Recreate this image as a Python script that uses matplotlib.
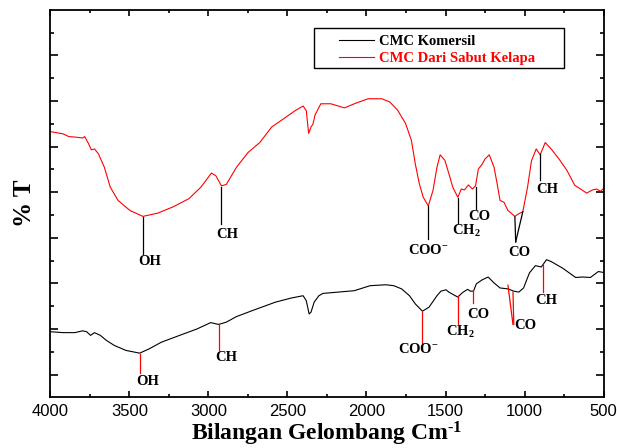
import matplotlib.pyplot as plt
from matplotlib.patches import Rectangle

plt.rcParams['font.family'] = ['Liberation Serif', 'DejaVu Serif']
plt.rcParams['mathtext.fontset'] = 'custom'
plt.rcParams['mathtext.rm'] = 'Liberation Serif:bold'
plt.rcParams['mathtext.bf'] = 'Liberation Serif:bold'
plt.rcParams['mathtext.it'] = 'Liberation Serif:bold'

# spektrum CMC dari sabut kelapa (merah)
red_x = [4000, 3920, 3883, 3846, 3796, 3783, 3758, 3741, 3721, 3696, 3659, 3621,
         3572, 3497, 3415, 3322, 3223, 3123, 3048, 2981, 2953, 2918, 2887, 2824,
         2750, 2675, 2600, 2525, 2451, 2401, 2381, 2366, 2351, 2338, 2326, 2289,
         2226, 2139, 2077, 1990, 1903, 1853, 1803, 1753, 1716, 1691, 1666, 1641,
         1609, 1579, 1554, 1534, 1504, 1479, 1454, 1422, 1400, 1380, 1355, 1330,
         1310, 1292, 1267, 1250, 1223, 1193, 1175, 1155, 1130, 1105, 1081, 1061,
         1036, 1011, 981, 956, 926, 901, 869, 832, 782, 732, 682, 645, 607, 570,
         545, 520, 500]
red_y = [58.3, 57.8, 57.2, 57.1, 56.9, 57.2, 55.6, 54.3, 54.5, 53.4, 50.5, 46.1,
         43.2, 41.0, 39.7, 40.4, 41.8, 43.6, 46.1, 49.2, 48.6, 46.4, 46.7, 50.4,
         53.7, 55.9, 59.3, 61.1, 62.9, 63.9, 62.9, 57.9, 59.3, 60.0, 61.9, 64.4,
         64.4, 63.5, 64.4, 65.5, 65.5, 64.8, 63.0, 60.1, 56.4, 51.2, 46.9, 43.9,
         42.0, 45.4, 50.5, 53.2, 52.0, 49.1, 46.1, 43.9, 45.7, 45.5, 46.6, 45.7,
         46.4, 50.1, 51.2, 52.3, 53.2, 50.5, 47.2, 43.2, 42.8, 41.0, 40.3, 39.7,
         40.3, 40.7, 46.1, 51.9, 54.5, 53.2, 55.9, 54.5, 52.3, 49.8, 46.5, 45.7,
         44.8, 45.5, 45.7, 45.2, 45.8]

# spektrum CMC komersil (hitam)
blk_x = [4000, 3920, 3846, 3796, 3771, 3746, 3721, 3684, 3646, 3596, 3522, 3435,
         3372, 3298, 3198, 3073, 2986, 2936, 2887, 2824, 2725, 2575, 2475, 2401,
         2381, 2363, 2351, 2331, 2301, 2276, 2077, 1977, 1878, 1828, 1778, 1728,
         1691, 1646, 1604, 1554, 1529, 1497, 1479, 1454, 1422, 1392, 1360, 1343,
         1323, 1305, 1267, 1230, 1193, 1155, 1105, 1068, 1036, 1006, 969, 931,
         894, 861, 832, 757, 677, 633, 583, 533, 500]
blk_y = [14.4, 14.2, 14.2, 14.6, 14.4, 13.6, 14.2, 13.6, 12.5, 11.4, 10.3, 9.7,
         10.7, 12.1, 13.4, 15.0, 16.4, 16.0, 16.5, 17.7, 19.0, 20.9, 21.8, 22.3,
         21.2, 18.3, 18.7, 20.9, 22.3, 22.8, 23.4, 24.5, 24.7, 24.5, 23.8, 22.3,
         20.5, 18.9, 19.8, 22.3, 23.3, 23.6, 23.1, 22.6, 22.0, 23.0, 23.7, 23.3,
         23.3, 24.9, 25.8, 26.4, 25.1, 24.0, 23.8, 23.3, 23.1, 24.0, 27.3, 28.9,
         28.6, 30.2, 29.8, 28.3, 26.3, 26.4, 26.3, 27.6, 27.4]

# penanda puncak
red_mark_x0 = [3417, 2919, 1609, 1422, 1310, 1061, 1011, 899]
red_mark_y0 = [39.6, 46.1, 41.9, 43.8, 46.1, 39.6, 40.7, 53.3]
red_mark_x1 = [3417, 2919, 1609, 1422, 1310, 1056, 1056, 899]
red_mark_y1 = [31.4, 38.1, 34.8, 38.3, 41.4, 34.1, 34.1, 47.6]
red_lbl = ['OH', 'CH', 'COO$^{-}$', 'CH$_{2}$', 'CO', 'CO', 'CH']
red_lbl_x = [3372, 2882, 1609, 1367, 1287, 1036, 856]
red_lbl_y = [29.7, 35.8, 32.3, 36.6, 39.7, 31.7, 45.6]

blk_mark_x0 = [3435, 2934, 1646, 1422, 1323, 1105, 1073, 886]
blk_mark_y0 = [9.6, 15.8, 18.8, 22.2, 23.5, 24.6, 23.1, 29.0]
blk_mark_x1 = [3435, 2934, 1646, 1422, 1323, 1073, 1068, 886]
blk_mark_y1 = [5.3, 10.4, 10.7, 16.2, 20.6, 16.0, 16.0, 23.1]
blk_lbl = ['OH', 'CH', 'COO$^{-}$', 'CH$_{2}$', 'CO', 'CO', 'CH']
blk_lbl_x = [3385, 2887, 1673, 1404, 1292, 993, 861]
blk_lbl_y = [3.4, 8.7, 10.6, 14.4, 18.2, 15.8, 21.2]

x_ticks = [4000, 3500, 3000, 2500, 2000, 1500, 1000, 500]

fig = plt.figure(figsize=(6.17, 4.48), dpi=100)
ax = fig.add_axes([0.0817, 0.113, 0.8965, 0.865])

ax.plot(blk_x, blk_y, color='black', lw=0.8, label='CMC Komersil')
ax.plot(red_x, red_y, color='red', lw=0.8, label='CMC Dari Sabut Kelapa')

for i in range(len(red_mark_x0)):
    ax.plot([red_mark_x0[i], red_mark_x1[i]], [red_mark_y0[i], red_mark_y1[i]],
            color='black', lw=0.9)
for i in range(len(blk_mark_x0)):
    ax.plot([blk_mark_x0[i], blk_mark_x1[i]], [blk_mark_y0[i], blk_mark_y1[i]],
            color='red', lw=0.9)
for t, x, y in zip(red_lbl, red_lbl_x, red_lbl_y):
    ax.text(x, y, t, ha='center', va='center', fontsize=10.5, fontweight='bold')
for t, x, y in zip(blk_lbl, blk_lbl_x, blk_lbl_y):
    ax.text(x, y, t, ha='center', va='center', fontsize=10.5, fontweight='bold')

ax.set_xlim(4000, 500)
ax.set_ylim(0, 85)
ax.set_xticks(x_ticks)
ax.set_xticks(range(3750, 500, -500), minor=True)
ax.set_xticklabels([str(v) for v in x_ticks], fontfamily='Liberation Sans', fontsize=12)
ax.set_yticks(range(5, 80, 10))
ax.set_yticks(range(10, 90, 10), minor=True)
ax.set_yticklabels([])
ax.tick_params(which='both', direction='in', top=True, right=True, width=1.2)
ax.tick_params(axis='x', which='major', length=4, pad=5)
ax.tick_params(axis='x', which='minor', length=2.5)
ax.tick_params(axis='y', which='major', length=6)
ax.tick_params(axis='y', which='minor', length=3)
for s in ax.spines.values():
    s.set_linewidth(1.3)

ax.set_xlabel('Bilangan Gelombang Cm$^{\\mathrm{\u2010}1}$', fontsize=17,
              fontweight='bold', labelpad=0)
ax.set_ylabel('% T', fontsize=18, fontweight='bold', labelpad=7)

leg = ax.legend(loc='upper left', bbox_to_anchor=(0.5226, 0.9355), frameon=False,
                borderpad=0, borderaxespad=0, handlelength=2.4, handletextpad=0.33,
                labelspacing=0.23, labelcolor='linecolor',
                prop={'family': 'Liberation Serif', 'weight': 'bold', 'size': 10.5})
ax.add_patch(Rectangle((0.476, 0.85), 0.453, 0.103, transform=ax.transAxes,
                       fill=False, edgecolor='black', lw=1.0))

fig.savefig('out.png', dpi=100)
